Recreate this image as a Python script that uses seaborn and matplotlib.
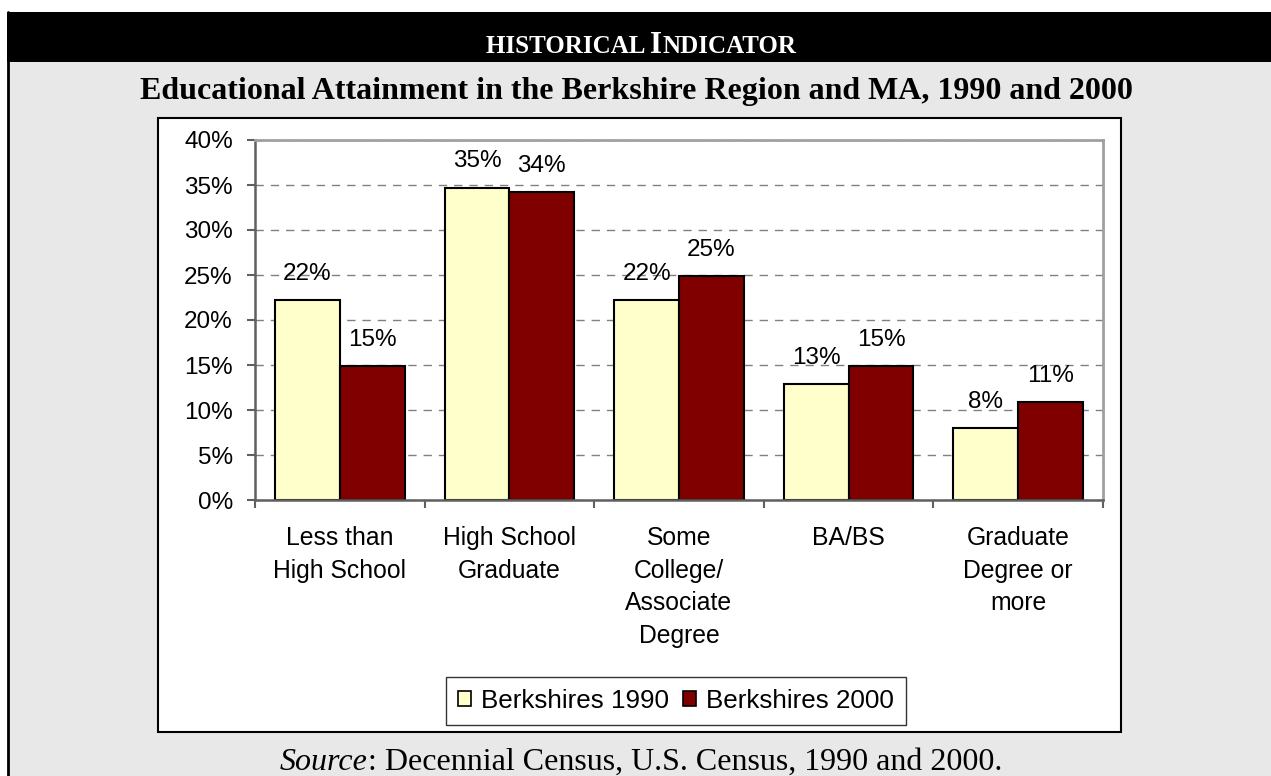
import matplotlib
matplotlib.use("Agg")
import matplotlib.pyplot as plt
import seaborn as sns
import pandas as pd
from matplotlib.patches import Rectangle
from matplotlib.lines import Line2D
from matplotlib.ticker import FixedLocator, FuncFormatter

# ------------------------------
# Data
# ------------------------------
categories = ["Less than\nHigh School", "High School\nGraduate",
              "Some\nCollege/\nAssociate\nDegree", "BA/BS",
              "Graduate\nDegree or\nmore"]
series_names = ["Berkshires 1990", "Berkshires 2000"]
vals_1990 = [22.2, 34.7, 22.2, 12.9, 8.0]
vals_2000 = [14.9, 34.2, 24.9, 14.9, 10.9]
bar_colors = ["#FFFFCC", "#800000"]
y_ticks = [0, 5, 10, 15, 20, 25, 30, 35, 40]

df = pd.DataFrame({
    "Category": categories * 2,
    "Series": [series_names[0]] * len(categories) + [series_names[1]] * len(categories),
    "Value": vals_1990 + vals_2000,
})

# ------------------------------
# Figure setup
# ------------------------------
W, H = 1271, 776
sns.set_theme(style="white")
plt.rcParams["font.family"] = ["Liberation Sans", "DejaVu Sans"]
plt.rcParams["text.color"] = "black"

fig = plt.figure(figsize=(W / 100, H / 100), dpi=100)
fig.patch.set_facecolor("white")


def fx(x):
    return x / W


def fy(y):
    return 1 - y / H


def add_rect(x0, y0, x1, y1, **kw):
    fig.patches.append(Rectangle((fx(x0), fy(y1)), (x1 - x0) / W, (y1 - y0) / H,
                                 transform=fig.transFigure, zorder=-10, **kw))


# page background, header bar, chart box
add_rect(7, 12, W, H, facecolor="#E8E8E8", edgecolor="none")
add_rect(7, 12, W, 62, facecolor="black", edgecolor="none")
fig.add_artist(Line2D([fx(8), fx(8)], [0, fy(12)], color="black", lw=2,
                      transform=fig.transFigure))
add_rect(158, 118, 1121, 732, facecolor="white", edgecolor="black", linewidth=1.5)

renderer = fig.canvas.get_renderer()


def centered_runs(runs, cx, baseline):
    # runs: (text, size, extra kwargs) placed side by side, centred on cx
    objs = []
    for txt, size, kw in runs:
        t = fig.text(0, fy(baseline), txt, fontsize=size, va="baseline",
                     ha="left", **kw)
        objs.append(t)
    widths = [t.get_window_extent(renderer=renderer).width for t in objs]
    x = cx - sum(widths) / 2
    for t, w in zip(objs, widths):
        t.set_x(fx(x))
        x += w


# header in small caps
hdr = dict(family=["Liberation Serif"], weight="bold", color="white")
centered_runs([("HISTORICAL ", 18, hdr), ("I", 22.5, hdr), ("NDICATOR", 18, hdr)],
              641, 53)

fig.text(fx(636), fy(99), "Educational Attainment in the Berkshire Region and MA, 1990 and 2000",
         ha="center", va="baseline", fontsize=23, weight="bold",
         family=["Liberation Serif"], color="black")

src = dict(family=["Liberation Serif"], color="black")
centered_runs([("Source", 23, dict(style="italic", **src)),
               (": Decennial Census, U.S. Census, 1990 and 2000.", 23, src)],
              641, 770)

# ------------------------------
# Bars
# ------------------------------
ax = fig.add_axes([fx(255), fy(500), (1103 - 255) / W, (500 - 140) / H])
ax.set_facecolor("white")
sns.barplot(data=df, x="Category", y="Value", hue="Series", palette=bar_colors,
            saturation=1, edgecolor="black", linewidth=1.5, width=0.765,
            ax=ax)

for cont, vals in zip(ax.containers, [vals_1990, vals_2000]):
    ax.bar_label(cont, labels=[f"{round(v)}%" for v in vals], padding=11,
                 fontsize=17.5, color="black")

ax.set_ylim(0, 40)
ax.set_xlim(-0.5, len(categories) - 0.5)
ax.set_yticks(y_ticks)
ax.yaxis.set_major_formatter(FuncFormatter(lambda v, p: f"{v:.0f}%"))
ax.yaxis.grid(True, color="#808080", linestyle=(0, (6, 5)), linewidth=1)
ax.set_axisbelow(True)
ax.set_xlabel("")
ax.set_ylabel("")

ax.tick_params(axis="y", direction="out", length=6, width=1.5, color="#606060",
               labelsize=17.5, pad=10, labelcolor="black", left=True)
ax.tick_params(axis="x", which="major", length=0, pad=19, labelsize=17.8,
               labelcolor="black")
ax.xaxis.set_minor_locator(FixedLocator([i - 0.5 for i in range(len(categories) + 1)]))
ax.tick_params(axis="x", which="minor", direction="out", length=6, width=1.5,
               color="#606060", bottom=True)
for lbl in ax.get_xticklabels():
    lbl.set_linespacing(1.45)

for side in ["left", "bottom"]:
    ax.spines[side].set_color("#606060")
    ax.spines[side].set_linewidth(1.8)
for side in ["top", "right"]:
    ax.spines[side].set_color("#A0A0A0")
    ax.spines[side].set_linewidth(2)

# ------------------------------
# Legend
# ------------------------------
handles, labels = ax.get_legend_handles_labels()
if ax.get_legend() is not None:
    ax.get_legend().remove()
leg = ax.legend(handles, labels, loc="center",
                bbox_to_anchor=(fx(676), fy(701)), bbox_transform=fig.transFigure,
                ncol=2, frameon=True, fancybox=False, edgecolor="black",
                fontsize=18.7, handlelength=0.5, handleheight=0.5,
                handletextpad=0.38, columnspacing=0.55, borderpad=0.45,
                borderaxespad=0, labelcolor="black")
leg.get_frame().set_linewidth(1)
for h in leg.legend_handles:
    h.set_edgecolor("black")
    h.set_linewidth(1.2)

fig.savefig("out.png", dpi=100)
